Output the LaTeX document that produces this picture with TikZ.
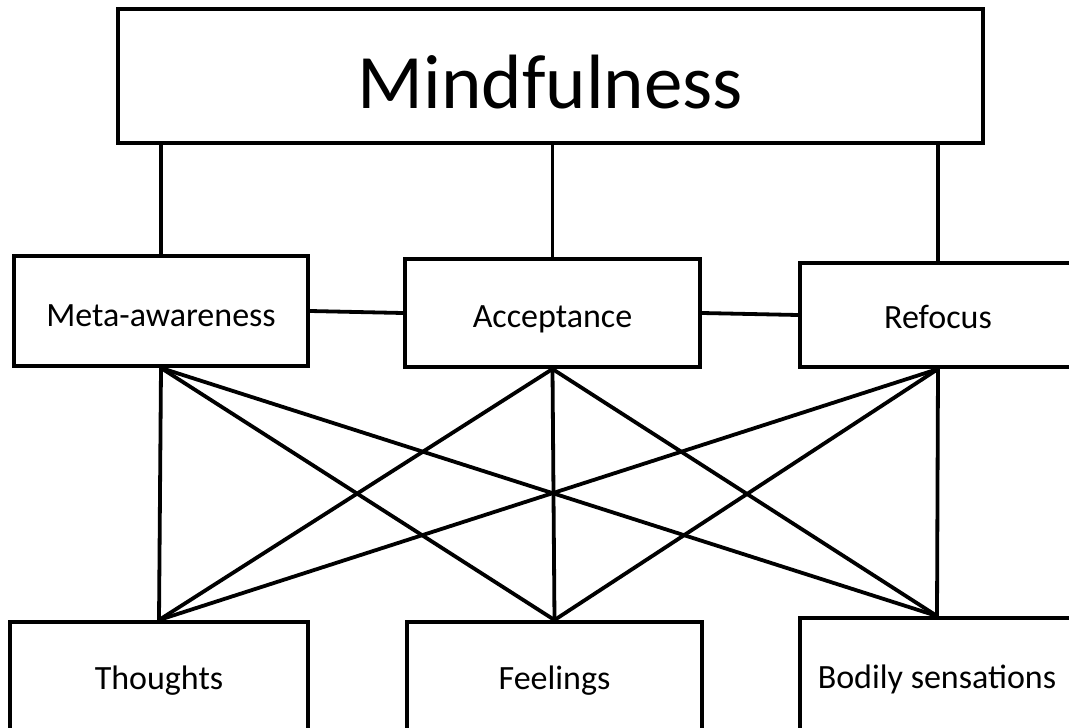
\documentclass[tikz,border=0pt]{standalone}
\usepackage{fontspec}
\setmainfont{Carlito}
\begin{document}
\begin{tikzpicture}[x=1pt,y=-1pt,
  box/.style={draw=black,line width=4pt,fill=white,rectangle,inner sep=0pt,text depth=0pt},
  small/.style={box,font=\fontsize{34}{40}\selectfont},
  conn/.style={draw=black,line width=3.8pt}]
\useasboundingbox (0,0) rectangle (1069,728);
\clip (0,0) rectangle (1069,728);
\node[box,minimum width=865pt,minimum height=134pt,text height=65pt,font=\fontsize{77}{80}\selectfont] (top) at (550.5,75.5) {Mindfulness};
\node[small,minimum width=294pt,minimum height=110pt,text height=30pt] (meta) at (161,311) {Meta-awareness};
\node[small,minimum width=295pt,minimum height=108pt,text height=28pt] (acc) at (552.5,313) {Acceptance};
\node[small,minimum width=276pt,minimum height=104pt,text height=26pt] (ref) at (938,315) {Refocus};
\node[small,minimum width=298pt,minimum height=116pt,text height=18pt] (th) at (159,680) {Thoughts};
\node[small,minimum width=295pt,minimum height=116pt,text height=18pt] (fe) at (554.5,680) {Feelings};
\node[small,minimum width=274pt,minimum height=120pt,text height=20pt] (bo) at (937,678) {Bodily sensations};
\draw[conn] (meta.north) -- (meta.north |- top.south);
\draw[conn] (acc.north) -- (acc.north |- top.south);
\draw[conn] (ref.north) -- (ref.north |- top.south);
\draw[conn] (meta.east) -- (acc.west);
\draw[conn] (acc.east) -- (ref.west);
\foreach \a in {meta,acc,ref}{
  \foreach \b in {th,fe,bo}{
    \draw[conn,line cap=round] (\a.south) -- (\b.north);
  }
}
\end{tikzpicture}
\end{document}
